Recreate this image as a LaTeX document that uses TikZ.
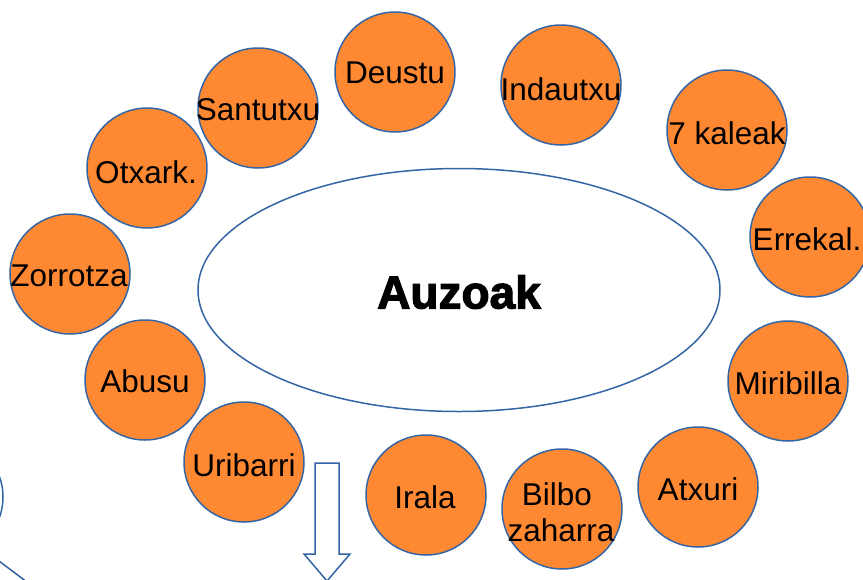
\documentclass[tikz,border=0pt]{standalone}
\usepackage{fontspec}
\setmainfont{Liberation Sans}
\newfontfamily\heavyfont{Liberation Sans Bold}[FakeBold=2.5]
\usetikzlibrary{shapes.geometric}
\definecolor{orng}{RGB}{255,136,51}
\definecolor{bl}{RGB}{52,101,164}
\tikzset{
  auzo/.style={circle,draw=bl,fill=orng,line width=1.5pt,minimum size=120pt,inner sep=0pt},
  txt/.style={font=\fontsize{31.5}{36}\selectfont,text=black,inner sep=0pt,align=center},
  line/.style={draw=bl,line width=1.5pt}
}
\begin{document}
\begin{tikzpicture}[x=1pt,y=-1pt]
\useasboundingbox (0,0) rectangle (863,579);
\clip (0,0) rectangle (863,579);
% central ellipse
\node[ellipse,draw=bl,line width=1.5pt,minimum width=522pt,minimum height=243pt,inner sep=0pt] (e) at (459,290) {};
\node[font=\fontsize{46}{50}\heavyfont,inner sep=0pt] (te) at (459,292) {Auzoak};
% circles
\node[auzo] (c1) at (395,72) {};
\node[auzo] (c2) at (561,85) {};
\node[auzo] (c3) at (727,130) {};
\node[auzo] (c4) at (810,237) {};
\node[auzo] (c5) at (788,381) {};
\node[auzo] (c6) at (698,487) {};
\node[auzo] (c7) at (562,509) {};
\node[auzo] (c8) at (426,495) {};
\node[auzo] (c9) at (244,462) {};
\node[auzo] (c10) at (145,380) {};
\node[auzo] (c11) at (70,274) {};
\node[auzo] (c12) at (147,168) {};
\node[auzo] (c13) at (258,108) {};
% labels
\node[txt] (t1) at (395,73) {Deustu};
\node[txt] (t2) at (561,89) {Indautxu};
\node[txt] (t3) at (727,133) {7 kaleak};
\node[txt] (t4) at (807,239) {Errekal.};
\node[txt] (t5) at (788,383) {Miribilla};
\node[txt] (t6) at (698,489) {Atxuri};
\node[txt] (t7a) at (557,494) {Bilbo};
\node[txt] (t7b) at (561,530) {zaharra};
\node[txt] (t8) at (425,497) {Irala};
\node[txt] (t9) at (244,465) {Uribarri};
\node[txt] (t10) at (145,381) {Abusu};
\node[txt] (t11) at (69,276) {Zorrotza};
\node[txt] (t12) at (146,172) {Otxark.};
\node[txt] (t13) at (258,110) {Santutxu};
% down arrow
\draw[line,fill=white] (315,463) -- (339,463) -- (339,554) -- (350,554) -- (327,581) -- (304,554) -- (315,554) -- cycle;
% partial shapes at left edge
\draw[line] (-57,497) circle (60);
\coordinate (l1) at (-5,558);
\coordinate (l2) at (35,588);
\draw[line] (l1) -- (l2);
\end{tikzpicture}
\end{document}
